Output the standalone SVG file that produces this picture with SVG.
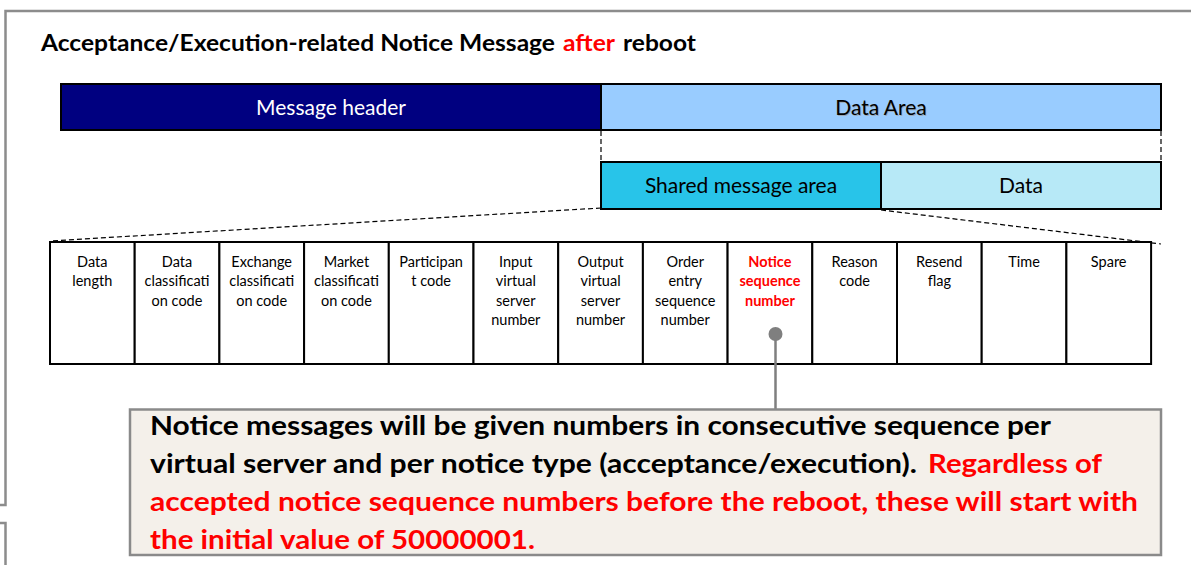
<svg xmlns="http://www.w3.org/2000/svg" width="1191" height="565" viewBox="0 0 1191 565">
  <style>
    .frame { fill: none; stroke: #8c8c8c; stroke-width: 2.5; }
    .bar { stroke: #000; stroke-width: 2; }
    .dash { fill: none; stroke: #000; stroke-width: 1.2; stroke-dasharray: 5 3; }
    .cell { fill: #fff; stroke: #000; stroke-width: 2; }
    .title { font-family: Lato, "Liberation Sans", Arial, sans-serif; font-weight: bold; font-size: 22px; fill: #000; }
    .barlbl { font-family: Lato, "Liberation Sans", Arial, sans-serif; font-size: 21px; text-anchor: middle; fill: #000; }
    .cl { font-family: Lato, "Liberation Sans", Arial, sans-serif; font-size: 14.5px; text-anchor: middle; fill: #000; }
    .clr { font-family: Lato, "Liberation Sans", Arial, sans-serif; font-size: 14.5px; text-anchor: middle; fill: #ff0000; font-weight: bold; }
    .note { font-family: Lato, "Liberation Sans", Arial, sans-serif; font-weight: bold; font-size: 27px; fill: #000; }
    .red { fill: #ff0000; }
  </style>

  <rect x="0" y="0" width="1191" height="565" fill="#fff"/>

  <!-- outer frames -->
  <path class="frame" d="M0 505 H5.5 V11 H1191"/>
  <path class="frame" d="M0 523 H5.5 V565"/>

  <!-- title -->
  <text class="title" x="41" y="51" textLength="514" lengthAdjust="spacingAndGlyphs">Acceptance/Execution-related Notice Message</text>
  <text class="title red" x="563" y="51" textLength="52" lengthAdjust="spacingAndGlyphs">after</text>
  <text class="title" x="623" y="51" textLength="73" lengthAdjust="spacingAndGlyphs">reboot</text>

  <!-- top bars -->
  <g id="message-header">
    <rect class="bar" x="61" y="84" width="540" height="46" fill="#000080"/>
    <text class="barlbl" x="331" y="115" style="fill:#fff">Message header</text>
  </g>
  <g id="data-area">
    <rect class="bar" x="601" y="84" width="560" height="46" fill="#99ccff"/>
    <text class="barlbl" x="882" y="116" style="fill:#9aa9b8">Data Area</text>
    <text class="barlbl" x="881" y="115">Data Area</text>
  </g>
  <g id="shared-message-area">
    <rect class="bar" x="601" y="162" width="280" height="47" fill="#28c4e9"/>
    <text class="barlbl" x="741" y="193">Shared message area</text>
  </g>
  <g id="data">
    <rect class="bar" x="881" y="162" width="280" height="47" fill="#b7e9f7"/>
    <text class="barlbl" x="1021" y="193">Data</text>
  </g>

  <!-- connectors -->
  <g id="connectors">
    <line class="dash" x1="601" y1="131" x2="601" y2="161"/>
    <line class="dash" x1="1161" y1="131" x2="1161" y2="161"/>
    <line class="dash" x1="601" y1="208" x2="50" y2="241"/>
    <line class="dash" x1="881" y1="210" x2="1161" y2="244"/>
  </g>

  <!-- table cells -->
  <g id="cell-data-length">
    <rect class="cell" x="50" y="242" width="84.7" height="122"/>
    <text class="cl" x="92.3" y="267">Data</text>
    <text class="cl" x="92.3" y="286">length</text>
  </g>
  <g id="cell-data-classification">
    <rect class="cell" x="134.7" y="242" width="84.7" height="122"/>
    <text class="cl" x="177" y="267">Data</text>
    <text class="cl" x="177" y="286">classificati</text>
    <text class="cl" x="177" y="305.5">on code</text>
  </g>
  <g id="cell-exchange-classification">
    <rect class="cell" x="219.4" y="242" width="84.7" height="122"/>
    <text class="cl" x="261.7" y="267">Exchange</text>
    <text class="cl" x="261.7" y="286">classificati</text>
    <text class="cl" x="261.7" y="305.5">on code</text>
  </g>
  <g id="cell-market-classification">
    <rect class="cell" x="304.1" y="242" width="84.7" height="122"/>
    <text class="cl" x="346.4" y="267">Market</text>
    <text class="cl" x="346.4" y="286">classificati</text>
    <text class="cl" x="346.4" y="305.5">on code</text>
  </g>
  <g id="cell-participant-code">
    <rect class="cell" x="388.8" y="242" width="84.7" height="122"/>
    <text class="cl" x="431.1" y="267">Participan</text>
    <text class="cl" x="431.1" y="286">t code</text>
  </g>
  <g id="cell-input-virtual-server">
    <rect class="cell" x="473.5" y="242" width="84.7" height="122"/>
    <text class="cl" x="515.8" y="267">Input</text>
    <text class="cl" x="515.8" y="286">virtual</text>
    <text class="cl" x="515.8" y="305.5">server</text>
    <text class="cl" x="515.8" y="325">number</text>
  </g>
  <g id="cell-output-virtual-server">
    <rect class="cell" x="558.2" y="242" width="84.7" height="122"/>
    <text class="cl" x="600.5" y="267">Output</text>
    <text class="cl" x="600.5" y="286">virtual</text>
    <text class="cl" x="600.5" y="305.5">server</text>
    <text class="cl" x="600.5" y="325">number</text>
  </g>
  <g id="cell-order-entry-sequence">
    <rect class="cell" x="642.9" y="242" width="84.7" height="122"/>
    <text class="cl" x="685.2" y="267">Order</text>
    <text class="cl" x="685.2" y="286">entry</text>
    <text class="cl" x="685.2" y="305.5">sequence</text>
    <text class="cl" x="685.2" y="325">number</text>
  </g>
  <g id="cell-notice-sequence">
    <rect class="cell" x="727.6" y="242" width="84.7" height="122"/>
    <text class="clr" x="769.9" y="267">Notice</text>
    <text class="clr" x="769.9" y="286">sequence</text>
    <text class="clr" x="769.9" y="305.5">number</text>
  </g>
  <g id="cell-reason-code">
    <rect class="cell" x="812.3" y="242" width="84.7" height="122"/>
    <text class="cl" x="854.6" y="267">Reason</text>
    <text class="cl" x="854.6" y="286">code</text>
  </g>
  <g id="cell-resend-flag">
    <rect class="cell" x="897" y="242" width="84.7" height="122"/>
    <text class="cl" x="939.3" y="267">Resend</text>
    <text class="cl" x="939.3" y="286">flag</text>
  </g>
  <g id="cell-time">
    <rect class="cell" x="981.7" y="242" width="84.7" height="122"/>
    <text class="cl" x="1024" y="267">Time</text>
  </g>
  <g id="cell-spare">
    <rect class="cell" x="1066.4" y="242" width="84.7" height="122"/>
    <text class="cl" x="1108.7" y="267">Spare</text>
  </g>

  <!-- pointer from notice sequence number to callout -->
  <g id="pointer">
    <line x1="775.5" y1="334" x2="775.5" y2="409" stroke="#7f7f7f" stroke-width="2.5"/>
    <circle cx="775.5" cy="334" r="7" fill="#7f7f7f"/>
  </g>

  <!-- callout -->
  <g id="callout">
    <rect x="130" y="409.5" width="1031" height="145.5" fill="#f4f0ea" stroke="#8a8a8a" stroke-width="2.5"/>
    <text class="note" x="150" y="435" textLength="901" lengthAdjust="spacingAndGlyphs">Notice messages will be given numbers in consecutive sequence per</text>
    <text class="note" x="150" y="473" textLength="767" lengthAdjust="spacingAndGlyphs">virtual server and per notice type (acceptance/execution).</text>
    <text class="note red" x="928" y="473" textLength="174" lengthAdjust="spacingAndGlyphs">Regardless of</text>
    <text class="note red" x="150" y="511" textLength="988" lengthAdjust="spacingAndGlyphs">accepted notice sequence numbers before the reboot, these will start with</text>
    <text class="note red" x="150" y="548.5" textLength="385" lengthAdjust="spacingAndGlyphs">the initial value of 50000001.</text>
  </g>
</svg>
